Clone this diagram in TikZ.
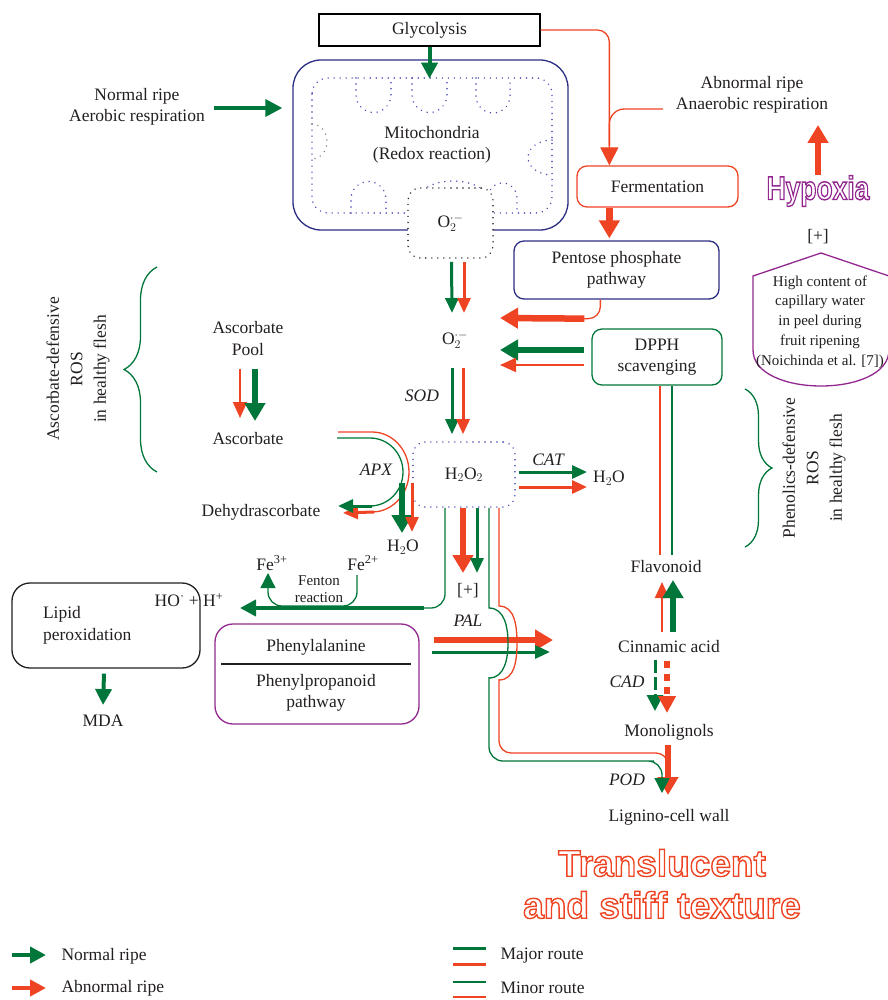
\documentclass[tikz,border=0pt]{standalone}
\usepackage{fontspec}
\setmainfont{Liberation Serif}
\newfontfamily\blockfont{Liberation Sans}
\usepackage{graphicx}
\usetikzlibrary{arrows.meta,calc,decorations.pathreplacing,positioning}

\definecolor{ngreen}{RGB}{0,118,58}
\definecolor{ared}{RGB}{239,68,35}
\definecolor{mnavy}{RGB}{44,46,131}
\definecolor{dotblue}{RGB}{70,70,180}
\definecolor{hpurple}{RGB}{146,39,143}
\definecolor{ink}{RGB}{35,31,32}

% hollow lettering: glyphs stroked only
\newcommand\outlined[1]{\special{pdf:literal direct q 1 Tr 1.4 w}#1\special{pdf:literal direct Q}}

\tikzset{
  fatarrow/.style={line width=6.5pt,-{Triangle[length=18pt,width=20pt]}},
  midarrow/.style={line width=4pt,-{Triangle[length=16pt,width=16pt]}},
  slimarrow/.style={line width=3pt,-{Triangle[length=15pt,width=13pt]}},
  thinarrow/.style={line width=2pt,-{Triangle[length=16pt,width=14pt]}},
  route/.style={line width=1.3pt},
  box/.style={draw,line width=1.3pt,rounded corners=10pt,align=center,inner sep=0pt},
  dotbox/.style={draw,line width=1.6pt,line cap=round,dash pattern=on 0.01pt off 6pt,rounded corners=12pt,inner sep=0pt},
  crista/.style={dotblue,line width=1.6pt,line cap=round,dash pattern=on 0.01pt off 6pt},
  lbl/.style={align=center,inner sep=1pt},
  enz/.style={font=\fontsize{17.5}{21}\selectfont\itshape},
  side/.style={align=center,rotate=90,font=\fontsize{17.5}{23.5}\selectfont},
  keytext/.style={anchor=west},
}

\begin{document}
\begin{tikzpicture}[x=1pt,y=-1pt,font=\fontsize{17.5}{21.5}\selectfont,text=ink]
\useasboundingbox (0,0) rectangle (887,1000);

% glycolysis feeding the mitochondria
\node[draw,line width=1.3pt,minimum width=221pt,minimum height=32pt,inner sep=0pt] (glyc) at (429.5,30) {Glycolysis};
\node[box,draw=mnavy,rounded corners=28pt,minimum width=275pt,minimum height=170pt] (mito) at (430.5,145) {};
\draw[crista,rounded corners=16pt] (312,78) rectangle (552,213);
% cristae
\draw[crista] (356,78) -- (356,95) arc[start angle=180,end angle=0,radius=17.5] -- (391,78);
\draw[crista] (412,78) -- (412,95) arc[start angle=180,end angle=0,radius=17.5] -- (447,78);
\draw[crista] (476,78) -- (476,96) arc[start angle=180,end angle=0,radius=17] -- (510,78);
\draw[crista,gray] (312,124) arc[start angle=-90,end angle=90,x radius=15,y radius=17.5];
\draw[crista] (552,140) arc[start angle=-90,end angle=-270,x radius=24,y radius=17.5];
\draw[crista] (351,213) -- (351,199) arc[start angle=180,end angle=360,radius=17.5] -- (386,213);
\draw[crista] (418,213) -- (418,200) arc[start angle=180,end angle=360,x radius=35,y radius=19] -- (488,213);
\draw[crista] (488,213) -- (488,198) arc[start angle=180,end angle=360,x radius=14.5,y radius=15] -- (517,213);
\node[lbl] (mitotxt) at (432,145) {Mitochondria\\(Redox reaction)};
\node[dotbox,draw=ink,fill=white,minimum width=85pt,minimum height=70pt] (o2m) at (450.5,223) {O$_2^{\cdot-}$};
\draw[ngreen,midarrow] (glyc.south) -- ++(0,32);

\node[lbl] (aerobic) at (137,107) {Normal ripe\\Aerobic respiration};
\draw[ngreen,line width=3.5pt,-{Triangle[length=17pt,width=17pt]}] ($(aerobic.east)+(8,1)$) -- ($(mito.west)+(-10,-37)$);

% abnormal ripening branch
\node[lbl] (anaerobic) at (752,95) {Abnormal ripe\\Anaerobic respiration};
\node[box,draw=ared,minimum width=161pt,minimum height=41pt] (ferm) at (657.5,186.5) {Fermentation};
\node[box,draw=mnavy,minimum width=205pt,minimum height=58pt] (ppp) at (616.5,270) {Pentose phosphate\\pathway};
\draw[ared,route,rounded corners=12pt,-{Triangle[length=18pt,width=18pt]}] (glyc.east) -| ($(ferm.north west)+(33,0)$);
\draw[ared,route,rounded corners=15pt] ($(anaerobic.west)+(-12,14)$) -| ($(ferm.north west)+(33,-20)$);
\draw[ared,fatarrow] ($(ferm.south west)+(33,0)$) -- ($(ppp.north west)+(96,-2)$);

% superoxide
\node[lbl] (o2) at (455,340) {O$_2^{\cdot-}$};
\draw[ngreen,slimarrow] ($(o2m.south)+(1,3)$) -- ($(o2)+(-3,-27)$);
\draw[ared,slimarrow] ($(o2m.south)+(13.5,3)$) -- ($(o2)+(9,-27)$);
\draw[ared,route,rounded corners=12pt] ($(ppp.south west)+(87,0)$) |- ($(ppp.south west)+(70,19)$);
\draw[ared,fatarrow] ($(ppp.south west)+(71,19)$) -- ($(o2)+(45,-22)$);

\node[box,draw=ngreen,minimum width=130pt,minimum height=56pt] (dpph) at (657,357) {DPPH\\scavenging};
\draw[ngreen,fatarrow] ($(dpph.west)+(-7,-7)$) -- ($(o2)+(45,10)$);
\draw[ared,thinarrow] ($(dpph.west)+(-7,8)$) -- ($(o2)+(45,25)$);

% hydrogen peroxide
\node[dotbox,draw=dotblue,minimum width=102pt,minimum height=65pt] (h2o2) at (464,474.5) {H$_2$O$_2$};
\node[enz] (sod) at (422,396) {SOD};
\draw[ngreen,slimarrow] ($(o2)+(-3,28)$) -- ($(h2o2.north)+(-12,-7)$);
\draw[ared,slimarrow] ($(o2)+(8,28)$) -- ($(h2o2.north)+(-1,-7)$);

\node[lbl] (water1) at (609,478) {H$_2$O};
\node[enz] (cat) at (548,460) {CAT};
\draw[ngreen,slimarrow] ($(h2o2.east)+(3,-2.5)$) -- ($(water1)+(-22,-6)$);
\draw[ared,slimarrow] ($(h2o2.east)+(3,12.5)$) -- ($(water1)+(-22,9)$);

% ascorbate side
\node[lbl] (pool) at (248,338.5) {Ascorbate\\Pool};
\node[lbl] (asc) at (248,439) {Ascorbate};
\node[lbl] (dha) at (261,512) {Dehydrascorbate};
\node[lbl] (water2) at (403,547) {H$_2$O};
\node[enz] (apx) at (376,470) {APX};
\draw[ared,thinarrow] ($(pool)+(-8,30)$) -- ($(asc)+(-8,-21)$);
\draw[ngreen,fatarrow] ($(pool)+(7,30)$) -- ($(asc)+(7,-18)$);
\draw[ared,route] ($(asc)+(90,-7)$) -- (372,432) arc[start angle=-90,end angle=90,x radius=37,y radius=40];
\draw[ngreen,route] ($(asc)+(89,-1)$) -- (370,438) arc[start angle=-90,end angle=90,x radius=33,y radius=34];
\draw[ared,slimarrow] (374,512) -- ($(dha)+(82,1)$);
\draw[ngreen,slimarrow] (372,506) -- ($(dha)+(77,-6)$);
\draw[ngreen,fatarrow] ($(water2)+(-1,-64)$) -- ($(water2)+(-1,-14)$);
\draw[ared,slimarrow] ($(water2)+(9,-64)$) -- ($(water2)+(9,-15)$);

\draw[ngreen,route,decorate,decoration={brace,amplitude=33pt}] (157,472) -- (157,267);
\node[side] (ascside) at (78,369) {Ascorbate-defensive\\ROS\\in healthy flesh};

% hypoxia
\node[text=hpurple,font=\blockfont\bfseries\fontsize{33}{36}\selectfont] (hypoxia) at (818,191) {\scalebox{0.8}[1]{\outlined{Hypoxia}}};
\draw[ared,fatarrow] ($(hypoxia)+(0,-16)$) -- ($(hypoxia)+(0,-66)$);
\node[lbl] (plus1) at (818,237) {[+]};
\draw[hpurple,route] (821,253) -- (889,276) -- (889,350) .. controls (889,398) and (753,398) .. (753,350) -- (753,276) -- cycle;
\node[lbl,font=\fontsize{15}{19.8}\selectfont] (capwater) at (820,322) {High content of\\capillary water\\in peel during\\fruit ripening\\(Noichinda et al. [7])};

% phenolics side
\node[lbl] (flav) at (666,567) {Flavonoid};
\node[lbl] (cinn) at (669,647) {Cinnamic acid};
\node[lbl] (mono) at (669,732) {Monolignols};
\node[lbl] (lignin) at (669,817) {Lignino-cell wall};
\node[enz] (cad) at (627,682) {CAD};
\node[enz] (pod) at (627,780) {POD};
\draw[ared,route] ($(dpph.south)+(3,0)$) -- ($(flav)+(-6,-12)$);
\draw[ngreen,route] ($(dpph.south)+(15,0)$) -- ($(flav)+(6,-12)$);
\draw[ared,thinarrow] ($(cinn)+(-7,-15)$) -- ($(flav)+(-4,15)$);
\draw[ngreen,fatarrow] ($(cinn)+(4,-15)$) -- ($(flav)+(7,13)$);
\draw[ngreen,line width=3pt,dash pattern=on 13pt off 4pt,-{Triangle[length=16pt,width=16pt]}] ($(cinn)+(-14,13)$) -- ($(mono)+(-14,-21)$);
\draw[ared,line width=6pt,dash pattern=on 7pt off 6pt,-{Triangle[length=17pt,width=17pt]}] ($(cinn)+(-2,14)$) -- ($(mono)+(-2,-19)$);
\draw[ared,fatarrow] ($(mono)+(-1,13)$) -- ($(lignin)+(-1,-22)$);

\draw[ngreen,route,decorate,decoration={brace,amplitude=27pt}] (745,389) -- (745,547);
\node[side] (phenside) at (814,468) {Phenolics-defensive\\ROS\\in healthy flesh};

% Fenton reaction and lipid damage
\node[lbl] (fe3) at (272,563) {Fe\textsuperscript{3+}};
\node[lbl] (fe2) at (363,563) {Fe\textsuperscript{2+}};
\node[lbl,font=\fontsize{15}{16.5}\selectfont] (fenton) at (319,589) {Fenton\\reaction};
\node[lbl] (hoh) at (189,600) {HO\textsuperscript{·} + H\textsuperscript{+}};
\draw[ngreen,route,rounded corners=14pt] ($(h2o2.south)+(-19,0)$) |- (420,608);
\draw[ngreen,midarrow] (424,608) -- ($(hoh)+(51,8)$);
\draw[ngreen,route,rounded corners=14pt,-{Triangle[length=15pt,width=15pt]}] ($(fe2)+(-6,12)$) |- (300,606) -| ($(fe3)+(-4,10)$);

\node[box,draw=ink,rounded corners=18pt,minimum width=188pt,minimum height=85pt,text width=126pt,align=left] (lipid) at (106,625.5) {Lipid\\peroxidation};
\node[lbl] (mda) at (103,721) {MDA};
\draw[ngreen,midarrow] ($(lipid.south)+(-2,5)$) -- ($(mda)+(0,-16)$);

\node[box,draw=hpurple,rounded corners=18pt,minimum width=204pt,minimum height=100pt] (phen) at (317,674) {};
\node[lbl] (phe) at (316,647) {Phenylalanine};
\node[lbl] (ppath) at (316,693) {Phenylpropanoid\\pathway};
\draw[ink,line width=1.2pt] ($(phen.west)+(7,-10)$) -- ($(phen.east)+(-9,-10)$);

% PAL and the long routes to the cell wall
\node[lbl] (plus2) at (468,591) {[+]};
\node[enz] (pal) at (468,621) {PAL};
\draw[ared,fatarrow] ($(h2o2.south)+(-1,0)$) -- ($(plus2)+(-5,-18)$);
\draw[ngreen,slimarrow] ($(h2o2.south)+(13,0)$) -- ($(plus2)+(9,-18)$);
\draw[ared,fatarrow] ($(phen.east)+(14,-34)$) -- ($(cinn)+(-116,-7)$);
\draw[ngreen,slimarrow] ($(phen.east)+(12,-22)$) -- ($(cinn)+(-119,5)$);

\draw[ngreen,route] ($(h2o2.south)+(25,0)$) -- (489,608) to[out=0,in=90] (508,643) to[out=-90,in=0] (489,678);
\draw[ngreen,route,rounded corners=14pt,-{Triangle[length=15pt,width=15pt]}] (489,677) |- (640,761) -| ($(lignin)+(-7,-24)$);
\draw[ared,route] ($(h2o2.south)+(35,0)$) -- (499,606) to[out=0,in=90] (517,643) to[out=-90,in=0] (499,680);
\draw[ared,route,rounded corners=12pt] (499,679) |- (640,753) -| ($(mono)+(-1,40)$);

% outcome
\node[align=center,text=ared,font=\blockfont\bfseries\fontsize{37}{42}\selectfont] (texture) at (662,884) {\outlined{Translucent}\\\outlined{and stiff texture}};

% key
\node[keytext] (knormal) at (58,956) {Normal ripe};
\node[keytext] (kabnormal) at (58,988) {Abnormal ripe};
\node[keytext] (kmajor) at (497,956) {Major route};
\node[keytext] (kminor) at (497,988) {Minor route};
\draw[ngreen,midarrow] ($(knormal.west)+(-46,-1)$) -- ($(knormal.west)+(-12,-1)$);
\draw[ared,midarrow] ($(kabnormal.west)+(-46,0)$) -- ($(kabnormal.west)+(-12,0)$);
\draw[ngreen,line width=3pt] ($(kmajor.west)+(-44,-8)$) -- ++(33,0);
\draw[ared,line width=3pt] ($(kmajor.west)+(-44,8)$) -- ++(33,0);
\draw[ngreen,route] ($(kminor.west)+(-44,-6)$) -- ++(33,0);
\draw[ared,route] ($(kminor.west)+(-44,9)$) -- ++(33,0);
\end{tikzpicture}
\end{document}
